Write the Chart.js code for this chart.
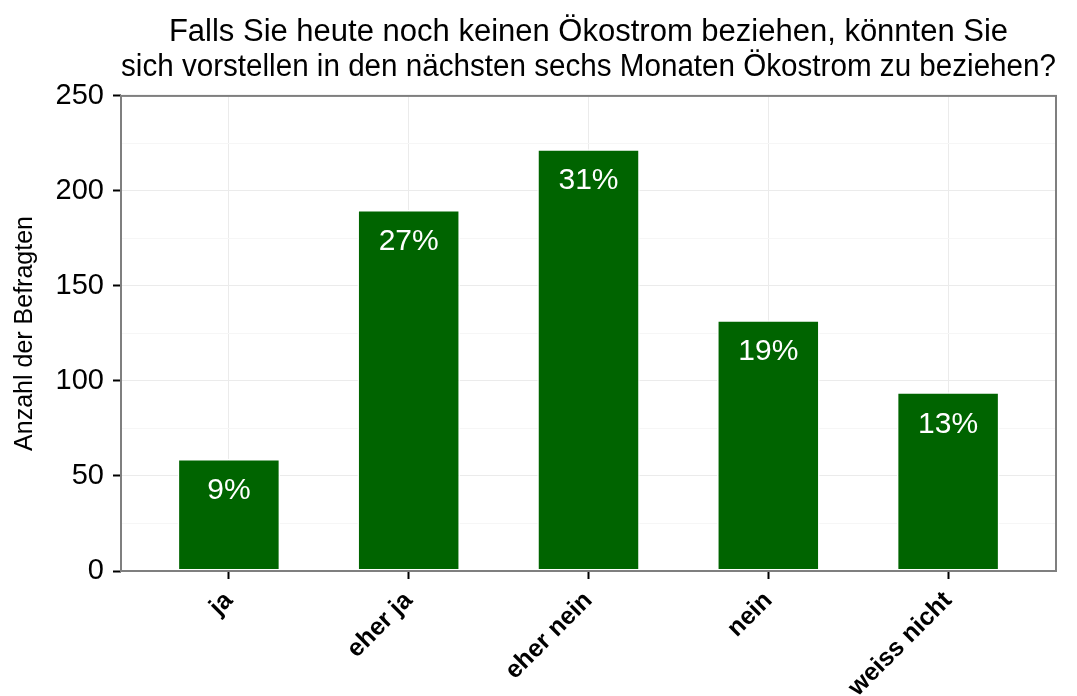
<!DOCTYPE html>
<html><head><meta charset="utf-8">
<script src="https://cdn.jsdelivr.net/npm/chart.js@4/dist/chart.umd.min.js"></script>
<style>html,body{margin:0;padding:0;background:#fff;overflow:hidden;}</style>
</head><body>
<canvas id="c" width="1077" height="696" style="width:1077px;height:696px;display:block"></canvas>
<script>
const categories = ['ja', 'eher ja', 'eher nein', 'nein', 'weiss nicht'];
const counts = [59, 190, 222, 132, 94];
const pctLabels = ['9%', '27%', '31%', '19%', '13%'];
const yTicks = [0, 50, 100, 150, 200, 250];
const titleLines = ['Falls Sie heute noch keinen Ökostrom beziehen, könnten Sie', 'sich vorstellen in den nächsten sechs Monaten Ökostrom zu beziehen?'];
const yTitle = 'Anzahl der Befragten';

const FONT = "'Liberation Sans', Arial, Helvetica, sans-serif";
const BAR = '#006400';

const panelBorder = {
  id: 'panelBorder',
  afterDatasetsDraw(chart) {
    const a = chart.chartArea, ctx = chart.ctx;
    ctx.save();
    ctx.strokeStyle = '#7f7f7f';
    ctx.lineWidth = 2;
    ctx.strokeRect(a.left, a.top, a.right - a.left, a.bottom - a.top);
    ctx.restore();
  }
};
const barLabels = {
  id: 'barLabels',
  afterDatasetsDraw(chart) {
    const ctx = chart.ctx, meta = chart.getDatasetMeta(0);
    ctx.save();
    ctx.fillStyle = '#ffffff';
    ctx.font = '30px ' + FONT;
    ctx.textAlign = 'center';
    ctx.textBaseline = 'middle';
    meta.data.forEach((el, i) => ctx.fillText(pctLabels[i], el.x, el.y + 32));
    ctx.restore();
  }
};

new Chart(document.getElementById('c'), {
  type: 'bar',
  data: {
    datasets: [{
      data: counts.map((v, i) => ({ x: i + 1, y: v })),
      backgroundColor: BAR,
      borderColor: '#ffffff',
      borderWidth: 1.5,
      borderSkipped: false,
      barPercentage: 0.57,
      categoryPercentage: 1
    }]
  },
  options: {
    responsive: false,
    animation: false,
    devicePixelRatio: 1,
    layout: { padding: { left: 0, right: 21, top: 4, bottom: 0 } },
    plugins: {
      legend: { display: false },
      tooltip: { enabled: false },
      title: {
        display: true,
        text: titleLines,
        fullSize: false,
        color: '#000',
        font: { family: FONT, size: 31, weight: 'normal', lineHeight: 1.16 },
        padding: { top: 10, bottom: 10 }
      }
    },
    scales: {
      x: {
        type: 'linear',
        offset: false,
        min: 0.4,
        max: 5.6,
        afterBuildTicks: s => { s.ticks = categories.map((c, i) => ({ value: i + 1 })); },
        afterFit: s => { s.height = 125; },
        ticks: {
          autoSkip: false,
          maxRotation: 45,
          minRotation: 45,
          padding: 7,
          color: '#000',
          font: { family: FONT, size: 25, weight: 'bold' },
          callback: (v, i) => categories[i]
        },
        grid: { offset: false, color: '#ebebeb', lineWidth: 1, tickColor: '#000', tickLength: 8, tickWidth: 2 },
        border: { display: false }
      },
      y: {
        min: 0,
        max: 250,
        afterBuildTicks: s => {
          const t = [];
          for (let v = 0; v <= 250; v += 25) t.push({ value: v });
          s.ticks = t;
        },
        afterFit: s => { s.width = 121; },
        ticks: {
          padding: 9,
          color: '#000',
          font: { family: FONT, size: 29 },
          callback: v => yTicks.includes(v) ? String(v) : ''
        },
        grid: {
          color: c => yTicks.includes(c.tick.value) ? '#ebebeb' : '#f6f6f6',
          lineWidth: 1,
          tickColor: c => yTicks.includes(c.tick.value) ? '#000' : 'rgba(0,0,0,0)',
          tickLength: 8,
          tickWidth: 2
        },
        border: { display: false },
        title: {
          display: true,
          text: yTitle,
          color: '#000',
          font: { family: FONT, size: 25 },
          padding: { top: 10, bottom: 4 }
        }
      }
    }
  },
  plugins: [panelBorder, barLabels]
});
</script>
</body></html>
